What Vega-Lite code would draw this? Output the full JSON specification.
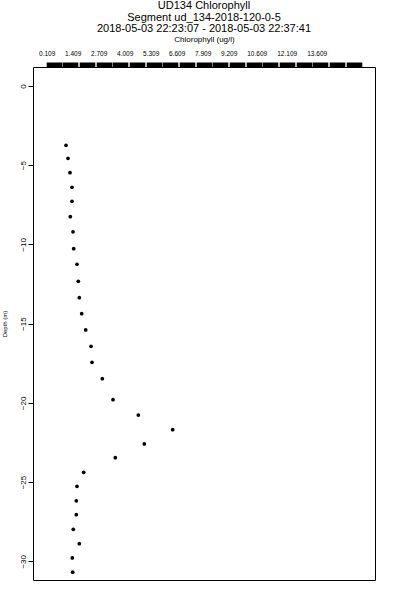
{
  "$schema": "https://vega.github.io/schema/vega-lite/v6.json",
  "width": 342,
  "height": 513,
  "padding": {"left": 1, "top": 0, "right": 5, "bottom": 5},
  "background": "white",
  "config": {
    "view": {"stroke": "black", "strokeWidth": 1},
    "font": "Liberation Sans",
    "axis": {"grid": false, "labelColor": "black", "titleColor": "black", "tickColor": "black", "domainColor": "black", "labelFont": "Liberation Sans", "titleFont": "Liberation Sans"}
  },
  "title": {
    "text": ["UD134 Chlorophyll", "Segment ud_134-2018-120-0-5", "2018-05-03 22:23:07 - 2018-05-03 22:37:41"],
    "fontSize": 11,
    "fontWeight": "normal",
    "lineHeight": 11.3,
    "anchor": "middle",
    "offset": 1,
    "font": "Liberation Sans",
    "color": "black"
  },
  "data": {
    "values": [
      {"chl": 1.075, "depth": -3.74},
      {"chl": 1.175, "depth": -4.56},
      {"chl": 1.275, "depth": -5.47},
      {"chl": 1.375, "depth": -6.39},
      {"chl": 1.375, "depth": -7.28},
      {"chl": 1.29, "depth": -8.25},
      {"chl": 1.425, "depth": -9.2},
      {"chl": 1.46, "depth": -10.27},
      {"chl": 1.625, "depth": -11.25},
      {"chl": 1.69, "depth": -12.33},
      {"chl": 1.74, "depth": -13.36},
      {"chl": 1.86, "depth": -14.37},
      {"chl": 2.06, "depth": -15.4},
      {"chl": 2.325, "depth": -16.43},
      {"chl": 2.375, "depth": -17.44},
      {"chl": 2.89, "depth": -18.47},
      {"chl": 3.425, "depth": -19.8},
      {"chl": 4.69, "depth": -20.77},
      {"chl": 6.41, "depth": -21.69},
      {"chl": 4.99, "depth": -22.59},
      {"chl": 3.54, "depth": -23.46},
      {"chl": 1.96, "depth": -24.38},
      {"chl": 1.625, "depth": -25.27},
      {"chl": 1.59, "depth": -26.18},
      {"chl": 1.59, "depth": -27.06},
      {"chl": 1.44, "depth": -27.98},
      {"chl": 1.74, "depth": -28.89},
      {"chl": 1.39, "depth": -29.79},
      {"chl": 1.41, "depth": -30.69}
    ]
  },
  "layer": [
    {
      "mark": {"type": "circle", "color": "black", "size": 14, "opacity": 1},
      "encoding": {
        "x": {
          "field": "chl", "type": "quantitative",
          "scale": {"domain": [-0.575, 16.525], "nice": false, "zero": false},
          "axis": {
            "orient": "top",
            "values": [0.109, 1.409, 2.709, 4.009, 5.309, 6.609, 7.909, 9.209, 10.609, 12.109, 13.609],
            "format": ".3f",
            "ticks": false, "tickSize": 0, "domain": false,
            "labelPadding": 11, "labelFontSize": 6.5,
            "title": "Chlorophyll (ug/l)", "titleFontSize": 8, "titleFontWeight": "normal", "titlePadding": 7
          }
        },
        "y": {
          "field": "depth", "type": "quantitative",
          "scale": {"domain": [-31.18, 1.2], "nice": false, "zero": false},
          "axis": {
            "values": [0, -5, -10, -15, -20, -25, -30],
            "domain": false, "tickSize": 5, "labelAngle": -90, "labelAlign": "center", "labelBaseline": "alphabetic",
            "labelPadding": 3, "labelFontSize": 8,
            "title": "Depth (m)", "titleFontSize": 6, "titleFontWeight": "normal", "titlePadding": 12
          }
        }
      }
    },
    {
      "mark": {"type": "circle", "opacity": 0},
      "encoding": {
        "x": {
          "field": "chl", "type": "quantitative",
          "axis": {
            "orient": "top",
            "values": [0.455, 1.2885, 2.122, 2.9555, 3.789, 4.6225, 5.456, 6.2895, 7.123, 7.9565, 8.79, 9.6235, 10.457, 11.2905, 12.124, 12.9575, 13.791, 14.6245, 15.458],
            "labels": false, "domain": false, "tickSize": 5, "tickWidth": 15.6, "tickColor": "black", "title": null, "offset": 0
          }
        },
        "y": {"field": "depth", "type": "quantitative"}
      }
    }
  ],
  "resolve": {"axis": {"x": "independent"}}
}
